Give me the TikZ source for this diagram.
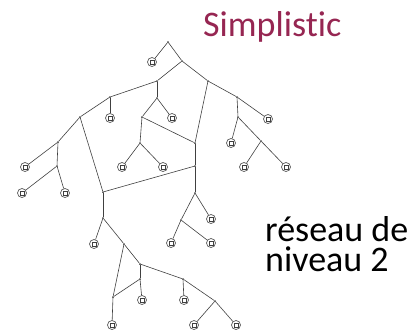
\documentclass[tikz,border=0pt]{standalone}
\usepackage{fontspec}
\setmainfont[Ligatures=NoCommon]{Carlito}
\definecolor{titlered}{RGB}{150,38,82}
\tikzset{
    junc/.style={circle, fill=black!80, minimum size=2pt, inner sep=0pt},
    leaf/.style={circle, draw=black!65, line width=0.7pt, minimum size=9pt, inner sep=0pt,
        path picture={\draw[black!75, line width=0.5pt]
            (path picture bounding box.center) ++(-1.8pt,-1.8pt) rectangle ++(3.6pt,3.6pt);}},
    link/.style={draw=black!75, line width=0.6pt},
}
\begin{document}
\begin{tikzpicture}[x=1pt, y=-1pt]
        \useasboundingbox (0,0) rectangle (415,333);
        %% titles
        \node[anchor=base west, inner sep=0pt, text=titlered, font=\fontsize{36}{40}\selectfont] (title) at (203,36) {Simplistic};
        \node[anchor=base west, inner sep=0pt, align=left, font=\fontsize{36}{30}\selectfont] (caption) at (265,271) {réseau de\\niveau 2};
        %% junctions
        \foreach \n/\x/\y in {a0/168/42, a1/182/61, a2/208/81, b1/157/81, b2/157/98,
                c1/110/97, c2/80/117, b3/142/117, b4/140/143, d1/195/143, d2/195/166,
                e1/58/142, e2/57/166, f1/103/192, d3/195/193, f2/103/218, g1/181/220,
                h1/124/244, h2/140/264, h3/140/279, h4/113/297, i1/183/279, i2/215/301,
                k1/237/97, k2/238/117, k3/261/141}
            \node[junc] (\n) at (\x,\y) {};
        %% leaves
        \foreach \n/\x/\y in {l1/152/62, l2/110/118, l3/172/118, l4/122/167, l5/163/167,
                l6/25/167, l7/22/193, l8/65/193, l9/94/244, l10/171/243, l11/211/243,
                l12/211/219, l13/142/300, l14/112/325, l15/184/300, l16/194/325,
                l17/236/325, l18/268/119, l19/231/143, l20/244/167, l21/286/167}
            \node[leaf] (\n) at (\x,\y) {};
        %% links
        \foreach \u/\v in {a0/l1, a0/a1, a1/a2, a1/b1, b1/b2, b1/c1, c1/l2, c1/c2,
                b2/b3, b2/l3, b3/b4, b3/d1, b4/l4, b4/l5, a2/d1, d1/d2, d2/f1, d2/d3,
                d3/g1, d3/l12, g1/l10, g1/l11, c2/e1, c2/f1, e1/l6, e1/e2, e2/l7, e2/l8,
                f1/f2, f2/l9, f2/h1, h1/h2, h1/h4, h2/h3, h3/h4, h3/l13, h4/l14,
                h2/i1, i1/l15, i1/i2, i2/l16, i2/l17, a2/k1, k1/l18, k1/k2, k2/l19,
                k2/k3, k3/l20, k3/l21}
            \path[link] (\u) -- (\v);
    \end{tikzpicture}
\end{document}
